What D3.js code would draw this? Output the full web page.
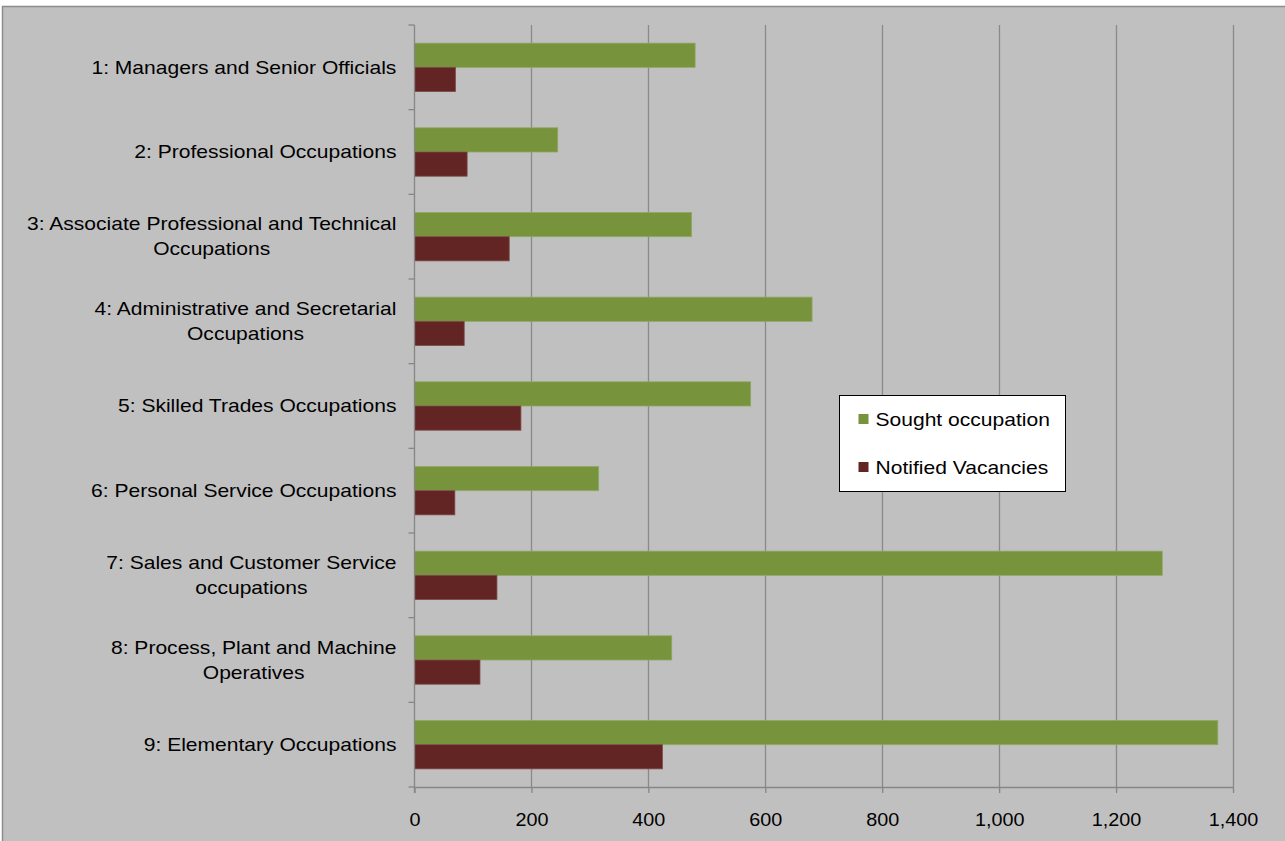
<!DOCTYPE html>
<html>
<head>
<meta charset="utf-8">
<script src="https://cdn.jsdelivr.net/npm/d3@7"></script>
<style>
  body { margin: 0; background: #fff; }
  svg { display: block; font-family: "Liberation Sans", Arial, sans-serif; }
</style>
</head>
<body>
<div id="vis"></div>
<script>
// Data
const categories = [
  ['1: Managers and Senior Officials'],
  ['2: Professional Occupations'],
  ['3: Associate Professional and Technical', 'Occupations'],
  ['4: Administrative and Secretarial', 'Occupations'],
  ['5: Skilled Trades Occupations'],
  ['6: Personal Service Occupations'],
  ['7: Sales and Customer Service', 'occupations'],
  ['8: Process, Plant and Machine', 'Operatives'],
  ['9: Elementary Occupations'],
];
const sought = [480, 245, 474, 680, 575, 315, 1279, 440, 1374];
const notified = [70, 90, 162, 85, 182, 69, 141, 112, 424];
const seriesNames = ['Sought occupation', 'Notified Vacancies'];
const xTicks = [0, 200, 400, 600, 800, 1000, 1200, 1400];

const WIDTH = 1285;
const HEIGHT = 841;
const MARGIN = { top: 25, right: 52, bottom: 54, left: 414.5 };
const COLORS = ['#77933C', '#632523'];
const STROKES = ['#8fa864', '#7d4a48'];
const STRETCH = 1.17; // the original text is rendered wider than Arial

const svg = d3.select('#vis').append('svg')
  .attr('width', WIDTH)
  .attr('height', HEIGHT);

// chart area background
svg.append('rect')
  .attr('x', 2.5).attr('y', 6.5)
  .attr('width', WIDTH).attr('height', HEIGHT)
  .attr('fill', '#c0c0c0')
  .attr('stroke', '#8c8c8c')
  .attr('stroke-width', 1.5);

const x = d3.scaleLinear()
  .domain([0, 1400])
  .range([MARGIN.left, MARGIN.left + 818.5]);

const y = d3.scaleBand()
  .domain(d3.range(categories.length))
  .range([MARGIN.top, HEIGHT - MARGIN.bottom]);

const bw = y.bandwidth();
const barH = bw / 3.5; // gap width 150%
const gapTop = (bw - 2 * barH) / 2;

// gridlines
svg.append('g')
  .selectAll('line')
  .data(xTicks.slice(1))
  .join('line')
  .attr('x1', (d) => Math.round(x(d)) + 0.5)
  .attr('x2', (d) => Math.round(x(d)) + 0.5)
  .attr('y1', MARGIN.top)
  .attr('y2', HEIGHT - MARGIN.bottom)
  .attr('stroke', '#8a8a8a')
  .attr('stroke-width', 1.3);

// bars
const groups = svg.append('g')
  .selectAll('g')
  .data(categories)
  .join('g');

groups.append('rect')
  .attr('x', x(0))
  .attr('y', (d, i) => y(i) + gapTop)
  .attr('width', (d, i) => x(sought[i]) - x(0))
  .attr('height', barH)
  .attr('fill', COLORS[0])
  .attr('stroke', STROKES[0])
  .attr('stroke-width', 0.8);

groups.append('rect')
  .attr('x', x(0))
  .attr('y', (d, i) => y(i) + gapTop + barH)
  .attr('width', (d, i) => x(notified[i]) - x(0))
  .attr('height', barH)
  .attr('fill', COLORS[1])
  .attr('stroke', STROKES[1])
  .attr('stroke-width', 0.8);

// x axis
const xAxis = svg.append('g')
  .attr('transform', `translate(0,${HEIGHT - MARGIN.bottom})`)
  .call(d3.axisBottom(x).tickValues(xTicks).tickSize(6).tickSizeOuter(0)
    .tickFormat(d3.format(',')));
xAxis.select('.domain').attr('stroke', '#868686').attr('stroke-width', 1.3);
xAxis.selectAll('.tick line').attr('stroke', '#868686').attr('stroke-width', 1.3);
xAxis.selectAll('.tick text')
  .attr('font-size', 18)
  .attr('font-family', '"Liberation Sans", Arial, sans-serif')
  .attr('fill', '#000')
  .attr('y', 0)
  .attr('dy', 0)
  .attr('transform', 'translate(0,39) scale(1.1,1)');

// y axis line and category ticks
const yAx = svg.append('g');
yAx.append('line')
  .attr('x1', x(0)).attr('x2', x(0))
  .attr('y1', MARGIN.top).attr('y2', HEIGHT - MARGIN.bottom + 6)
  .attr('stroke', '#868686').attr('stroke-width', 1.3);
yAx.selectAll('line.tk')
  .data(d3.range(categories.length + 1))
  .join('line')
  .attr('class', 'tk')
  .attr('x1', x(0) - 6).attr('x2', x(0))
  .attr('y1', (i) => MARGIN.top + i * bw)
  .attr('y2', (i) => MARGIN.top + i * bw)
  .attr('stroke', '#868686').attr('stroke-width', 1.3);

// category labels, lines centred on each other, right edge at the axis
const labelRight = x(0) - 18;
categories.forEach((lines, i) => {
  const cy = y(i) + bw / 2;
  const lh = 25;
  const g = svg.append('g');
  const texts = lines.map((t, k) => g.append('text')
    .attr('dy', '0.35em')
    .attr('font-size', 18)
    .attr('text-anchor', 'middle')
    .attr('fill', '#000')
    .text(t));
  const maxW = d3.max(texts, (t) => t.node().getComputedTextLength()) * STRETCH;
  texts.forEach((t, k) => t.attr('transform',
    `translate(${labelRight - maxW / 2},${cy + (k - (lines.length - 1) / 2) * lh}) scale(${STRETCH},1)`));
});

// legend
const legend = svg.append('g').attr('transform', 'translate(839.5,395.5)');
legend.append('rect')
  .attr('width', 226).attr('height', 96)
  .attr('fill', '#fff').attr('stroke', '#000').attr('stroke-width', 1);
seriesNames.forEach((name, i) => {
  const ly = 24.5 + i * 48;
  legend.append('rect')
    .attr('x', 19).attr('y', ly - 6)
    .attr('width', 10).attr('height', 10)
    .attr('fill', COLORS[i]);
  legend.append('text')
    .attr('dy', '0.35em')
    .attr('font-size', 18)
    .attr('fill', '#000')
    .attr('transform', `translate(36,${ly}) scale(${STRETCH},1)`)
    .text(name);
});
</script>
</body>
</html>
